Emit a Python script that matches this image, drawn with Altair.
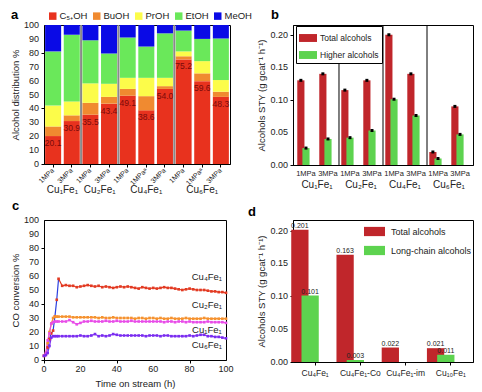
import altair as alt
import pandas as pd

FONT = "Liberation Sans"
TXT = "#222222"

# ---------------- Panel a ----------------
a_bars = ["Cu1Fe1|1MPa", "Cu1Fe1|3MPa", "Cu2Fe1|1MPa", "Cu2Fe1|3MPa",
          "Cu4Fe1|1MPa", "Cu4Fe1|1MPaᵃ", "Cu4Fe1|3MPa",
          "Cu6Fe1|1MPa", "Cu6Fe1|1MPaᵃ", "Cu6Fe1|3MPa"]
a_components = ["C₅₊OH", "BuOH", "PrOH", "EtOH", "MeOH"]
a_colors = ["#e8321e", "#f08a30", "#fcfc4a", "#6ae85a", "#0a0ae6"]
a_c5 = [20.1, 30.9, 35.5, 43.4, 49.1, 38.6, 54.0, 75.2, 59.6, 48.3]
a_buoh = [6.9, 4.1, 8.5, 4.9, 4.9, 10.2, 2.0, 2.3, 5.6, 3.7]
a_proh = [15.0, 10.0, 14.0, 9.4, 8.0, 13.2, 6.0, 3.5, 8.8, 8.4]
a_etoh = [39.0, 48.0, 31.0, 21.8, 29.0, 22.5, 32.0, 15.0, 16.0, 29.9]
a_meoh = [19.0, 7.0, 11.0, 20.5, 9.0, 15.5, 6.0, 4.0, 10.0, 9.7]
a_yticks = [0, 10, 20, 30, 40, 50, 60, 70, 80, 90, 100]
a_ylabels = ["0", "10", "20", "30", "40", "50", "60", "70", "80", "90", "100"]
a_groups = ["Cu₁Fe₁", "Cu₂Fe₁", "Cu₄Fe₁", "Cu₆Fe₁"]
a_group_anchor = ["Cu1Fe1|1MPa", "Cu2Fe1|1MPa", "Cu4Fe1|1MPaᵃ", "Cu6Fe1|1MPaᵃ"]
a_group_between = [True, True, False, False]
a_separators = ["Cu1Fe1|3MPa", "Cu2Fe1|3MPa", "Cu4Fe1|3MPa"]

# ---------------- Panel b ----------------
b_conds = ["Cu1Fe1|1MPa", "Cu1Fe1|3MPa", "Cu2Fe1|1MPa", "Cu2Fe1|3MPa",
           "Cu4Fe1|1MPa", "Cu4Fe1|3MPa", "Cu6Fe1|1MPa", "Cu6Fe1|3MPa"]
b_series = ["Total alcohols", "Higher alcohols"]
b_total = [0.130, 0.140, 0.115, 0.130, 0.200, 0.140, 0.020, 0.090]
b_higher = [0.026, 0.040, 0.042, 0.053, 0.101, 0.076, 0.010, 0.047]
b_yticks = [0, 0.05, 0.10, 0.15, 0.20]
b_ylabels = ["0.00", "0.05", "0.10", "0.15", "0.20"]
b_groups = ["Cu₁Fe₁", "Cu₂Fe₁", "Cu₄Fe₁", "Cu₆Fe₁"]
b_group_anchor = ["Cu1Fe1|1MPa", "Cu2Fe1|1MPa", "Cu4Fe1|1MPa", "Cu6Fe1|1MPa"]
b_separators = ["Cu1Fe1|3MPa", "Cu2Fe1|3MPa", "Cu4Fe1|3MPa"]
b_separator_top = [0.179, 0.215, 0.215]

# ---------------- Panel c ----------------
c_time = [0, 1, 2, 3, 4, 5, 6, 7, 8,
          10, 12, 14, 16, 18, 20, 22, 24, 26, 28, 30, 32, 34, 36, 38, 40,
          42, 44, 46, 48, 50, 52, 54, 56, 58, 60, 62, 64, 66, 68, 70,
          72, 74, 76, 78, 80, 82, 84, 86, 88, 90, 92, 94, 96, 98, 100]
c_series = ["Cu₄Fe₁", "Cu₂Fe₁", "Cu₁Fe₁", "Cu₆Fe₁"]
c_cu4 = [3, 4, 9, 15, 19, 21, 31, 43, 58,
         53, 53.5, 53, 53, 52, 52.5, 53, 53.5, 53, 52.5, 53, 52, 52.5, 52, 51.5, 52,
         52.5, 52, 52.5, 52, 51.5, 51, 52, 51.5, 51, 51.5, 51, 51.5, 52, 51.5, 51.5,
         51, 50.5, 50, 50.5, 51, 50.5, 50, 50, 50, 49.5, 49, 49, 48.5, 48.5, 48]
c_cu2 = [3, 4, 12, 20, 26, 30, 31, 31, 31,
         31, 31, 31, 30.5, 30.5, 30.5, 30.5, 30.5, 30.5, 30.5, 30, 30.5, 30, 30, 30.5, 30,
         30, 30, 30, 30, 29.5, 30, 30, 29.5, 30, 30, 29.5, 30, 29.5, 29.5, 30,
         29.5, 29.5, 29.5, 30, 29.5, 29.5, 29.5, 29.5, 30, 29.5, 29.5, 29.5, 29.5, 29.5, 29.5]
c_cu1 = [3, 5, 14, 19, 26, 27, 27.5, 27.5, 27.5,
         27.5, 27.5, 28.5, 27, 25.5, 26.5, 27.5, 27.5, 28, 27.5, 27.5, 27.5, 28, 27.5, 27.5, 28,
         27.5, 27.5, 27.5, 28, 27.5, 27.5, 27.5, 27.5, 27.5, 27.5, 27.5, 27.5, 27, 27.5, 27.5,
         27, 27.5, 27.5, 27, 27.5, 27, 27, 27, 27, 27.5, 27, 27, 27, 27, 26.5]
c_cu6 = [3, 3.5, 5, 10, 16, 17, 17, 17, 17,
         17, 17, 17, 17, 17, 17.5, 17, 17, 17.5, 18.5, 17, 17.5, 17, 17.5, 18.5, 18,
         17.5, 17.5, 17.5, 17.5, 17.5, 17.5, 17.5, 17, 17.5, 17.5, 17.5, 17, 17.5, 17.5, 17,
         17, 17, 17, 17, 17.5, 17, 17.5, 18, 18, 17, 17, 16.5, 16.5, 16, 15.5]
c_xticks = [0, 20, 40, 60, 80, 100]
c_xlabels = ["0", "20", "40", "60", "80", "100"]
c_yticks = [0, 10, 20, 30, 40, 50, 60, 70, 80, 90, 100]
c_ylabels = ["0", "10", "20", "30", "40", "50", "60", "70", "80", "90", "100"]
c_colors = ["#e23a22", "#f5922f", "#e84ce8", "#7a2cf0"]
c_ramp_color = "#2a3fe0"
c_label_x = [89.5, 89.5, 89.5, 89.5]
c_label_y = [59.5, 39.5, 21.5, 10.5]

# ---------------- Panel d ----------------
d_cats = ["Cu₄Fe₁", "Cu₄Fe₁-Co", "Cu₄Fe₁-im", "Cu₁₀Fe₁"]
d_series = ["Total alcohols", "Long-chain alcohols"]
d_total = [0.201, 0.163, 0.022, 0.021]
d_long = [0.101, 0.003, None, 0.011]
d_yticks = [0, 0.05, 0.10, 0.15, 0.20]
d_ylabels = ["0.00", "0.05", "0.10", "0.15", "0.20"]

bar_colors_bd = ["#c0262b", "#5dd34f"]
letters = ["a", "b", "c", "d"]
rect_symbol = "M-1,-0.44H1V0.44H-1Z"


def letter_layer(letter, x, y):
    return alt.Chart(pd.DataFrame({"letter": [letter]})).mark_text(
        fontSize=13, fontWeight="bold", align="left", baseline="alphabetic", color="black"
    ).encode(text="letter:N", x=alt.value(x), y=alt.value(y))


def band_geom(width, n, p_in, p_out):
    step = width / (n - p_in + 2 * p_out)
    return step, step * (1 - p_in), step * p_in / 2


def yaxis(title, values, title_pad):
    return alt.Axis(title=title, values=values, tickSize=3, labels=False,
                    titleFontSize=9.5, titlePadding=title_pad)


def ytick_labels(ticks, labels, scale):
    df = pd.DataFrame({"tick": ticks, "lab": labels})
    return alt.Chart(df).mark_text(align="right", baseline="middle", dx=-5, fontSize=9, color=TXT).encode(
        x=alt.value(0), y=alt.Y("tick:Q", scale=scale), text="lab:N")


# ================= Panel a chart =================
A_W, A_H = 186, 139
rows = []
for comp_i, (comp, vals) in enumerate(zip(a_components, [a_c5, a_buoh, a_proh, a_etoh, a_meoh])):
    for bar, v in zip(a_bars, vals):
        rows.append({"bar": bar, "comp": comp, "order": comp_i, "val": v})
df_a = pd.DataFrame(rows)
df_a_lab = pd.DataFrame({"bar": a_bars, "val": a_c5, "lab": [f"{v:.1f}" for v in a_c5]})
df_a_grp = pd.DataFrame({"bar": a_group_anchor, "name": a_groups, "between": a_group_between})
df_a_sep = pd.DataFrame({"bar": a_separators, "val": [0] * 3, "y1": [100] * 3})

a_pi, a_po = 0.14, 0.06
_, _, a_half = band_geom(A_W, len(a_bars), a_pi, a_po)
xa_scale = alt.Scale(domain=a_bars, paddingInner=a_pi, paddingOuter=a_po)
xa_axis = alt.Axis(title=None, labelExpr="split(datum.value,'|')[1]", labelAngle=-45,
                   labelAlign="right", labelBaseline="middle", labelFontSize=7,
                   tickSize=3, labelPadding=2, labelOverlap=False)
ya_scale = alt.Scale(domain=[0, 100], nice=False)

a_bars_layer = alt.Chart(df_a).mark_bar().encode(
    x=alt.X("bar:N", scale=xa_scale, axis=xa_axis, sort=a_bars),
    y=alt.Y("val:Q", stack="zero", scale=ya_scale, axis=yaxis("Alcohol distribution %", a_yticks, 20)),
    color=alt.Color("comp:N", scale=alt.Scale(domain=a_components, range=a_colors),
                    legend=alt.Legend(title=None, orient="none", direction="horizontal",
                                      legendX=4, legendY=-14, symbolType="square",
                                      symbolSize=56, symbolStrokeWidth=0, labelFontSize=9.5,
                                      labelOffset=2, columnPadding=4, labelColor=TXT)),
    order=alt.Order("order:Q", sort="ascending"),
)
a_sep_layer = alt.Chart(df_a_sep).mark_rule(color="#8a8a8a", strokeWidth=2, xOffset=a_half).encode(
    x=alt.X("bar:N", scale=xa_scale, sort=a_bars, bandPosition=1),
    y=alt.Y("val:Q", scale=ya_scale), y2="y1:Q")
a_lab_layer = alt.Chart(df_a_lab).mark_text(fontSize=8.5, baseline="top", dy=3, color="#7a0a0a").encode(
    x=alt.X("bar:N", scale=xa_scale, sort=a_bars), y=alt.Y("val:Q", scale=ya_scale), text="lab:N")
a_grp1 = alt.Chart(df_a_grp).transform_filter("datum.between").mark_text(
    fontSize=10, baseline="middle", color=TXT, dx=a_half).encode(
    x=alt.X("bar:N", scale=xa_scale, sort=a_bars, bandPosition=1),
    y=alt.value(A_H + 26), text="name:N")
a_grp2 = alt.Chart(df_a_grp).transform_filter("!datum.between").mark_text(
    fontSize=10, baseline="middle", color=TXT).encode(
    x=alt.X("bar:N", scale=xa_scale, sort=a_bars, bandPosition=0.5),
    y=alt.value(A_H + 26), text="name:N")
pa = alt.layer(a_bars_layer, a_sep_layer, a_lab_layer, a_grp1, a_grp2,
               ytick_labels(a_yticks, a_ylabels, ya_scale),
               letter_layer(letters[0], -33, -6)).properties(width=A_W, height=A_H)

# ================= Panel b chart =================
B_W, B_H = 180, 140
rows = []
for s, vals in zip(b_series, [b_total, b_higher]):
    for c, v in zip(b_conds, vals):
        rows.append({"cond": c, "sb": s, "val": v})
df_b = pd.DataFrame(rows)
df_b_grp = pd.DataFrame({"cond": b_group_anchor, "name": b_groups})
df_b_sep = pd.DataFrame({"cond": b_separators, "val": [0] * 3, "y1": b_separator_top})

b_pi, b_po = 0.32, 0.25
b_step, b_bw, b_half = band_geom(B_W, len(b_conds), b_pi, b_po)
b_off_pi = 0.08
b_bar_w = b_bw / (2 - b_off_pi) * (1 - b_off_pi)
xb_scale = alt.Scale(domain=b_conds, paddingInner=b_pi, paddingOuter=b_po)
yb_scale = alt.Scale(domain=[0, 0.215], nice=False)
xb_axis = alt.Axis(title=None, labelExpr="split(datum.value,'|')[1]", labelAngle=0,
                   labelFontSize=7.5, tickSize=0, labelPadding=4, labelOverlap=False)
xoff_b = alt.XOffset("sb:N", scale=alt.Scale(domain=b_series, paddingInner=b_off_pi, paddingOuter=0))

b_bars_layer = alt.Chart(df_b).mark_bar(width=b_bar_w).encode(
    x=alt.X("cond:N", scale=xb_scale, axis=xb_axis, sort=b_conds),
    xOffset=xoff_b,
    y=alt.Y("val:Q", scale=yb_scale, axis=yaxis("Alcohols STY (g gcat⁻¹ h⁻¹)", b_yticks, 23)),
    color=alt.Color("sb:N", scale=alt.Scale(domain=b_series, range=bar_colors_bd),
                    legend=alt.Legend(title=None, orient="none", legendX=3, legendY=1,
                                      strokeColor="black", padding=3, fillColor="white",
                                      symbolType=rect_symbol, symbolSize=324, symbolStrokeWidth=0,
                                      labelFontSize=8.5, rowPadding=3, labelOffset=3, labelColor=TXT)),
)
b_err_layer = alt.Chart(df_b).mark_point(shape="square", filled=True, size=9, color="black", opacity=1).encode(
    x=alt.X("cond:N", scale=xb_scale, sort=b_conds), xOffset=xoff_b,
    y=alt.Y("val:Q", scale=yb_scale))
b_sep_layer = alt.Chart(df_b_sep).mark_rule(color="black", strokeWidth=1, xOffset=b_half).encode(
    x=alt.X("cond:N", scale=xb_scale, sort=b_conds, bandPosition=1),
    y=alt.Y("val:Q", scale=yb_scale), y2="y1:Q")
b_grp_layer = alt.Chart(df_b_grp).mark_text(fontSize=10, baseline="middle", color=TXT, dx=b_half).encode(
    x=alt.X("cond:N", scale=xb_scale, sort=b_conds, bandPosition=1),
    y=alt.value(B_H + 20), text="name:N")
pb = alt.layer(b_bars_layer, b_sep_layer, b_err_layer, b_grp_layer,
               ytick_labels(b_yticks, b_ylabels, yb_scale),
               letter_layer(letters[1], -22, -6)).properties(width=B_W, height=B_H)

# ================= Panel c chart =================
C_W, C_H = 182, 140
pts = []
lines = []
for s, vals in zip(c_series, [c_cu4, c_cu2, c_cu1, c_cu6]):
    for t, v in zip(c_time, vals):
        pts.append({"series": s, "t": t, "v": v})
        if s == c_series[0]:
            if t <= 8:
                lines.append({"grp": "ramp", "t": t, "v": v})
            if t >= 8:
                lines.append({"grp": s, "t": t, "v": v})
        else:
            lines.append({"grp": s, "t": t, "v": v})
df_c_pts = pd.DataFrame(pts)
df_c_lines = pd.DataFrame(lines)
df_c_lab = pd.DataFrame({"name": c_series, "t": c_label_x, "v": c_label_y})
df_c_xt = pd.DataFrame({"t": c_xticks, "lab": c_xlabels})

xc_scale = alt.Scale(domain=[0, 100], nice=False)
yc_scale = alt.Scale(domain=[0, 100], nice=False)
c_line_layer = alt.Chart(df_c_lines).mark_line(strokeWidth=1.2).encode(
    x=alt.X("t:Q", scale=xc_scale,
            axis=alt.Axis(title="Time on stream (h)", values=c_xticks, tickSize=3, labels=False,
                          titleFontSize=9.5, titlePadding=15)),
    y=alt.Y("v:Q", scale=yc_scale, axis=yaxis("CO conversion %", c_yticks, 20)),
    color=alt.Color("grp:N", scale=alt.Scale(domain=c_series + ["ramp"], range=c_colors + [c_ramp_color]),
                    legend=None),
    detail="grp:N",
)
c_pt_layer = alt.Chart(df_c_pts).mark_point(shape="square", filled=True, size=7, opacity=1).encode(
    x=alt.X("t:Q", scale=xc_scale), y=alt.Y("v:Q", scale=yc_scale),
    color=alt.Color("series:N", scale=alt.Scale(domain=c_series, range=c_colors), legend=None))
c_lab_layer = alt.Chart(df_c_lab).mark_text(fontSize=9.5, color=TXT, baseline="middle").encode(
    x=alt.X("t:Q", scale=xc_scale), y=alt.Y("v:Q", scale=yc_scale), text="name:N")
c_xt_layer = alt.Chart(df_c_xt).mark_text(fontSize=9, color=TXT, baseline="top", dy=0).encode(
    x=alt.X("t:Q", scale=xc_scale), y=alt.value(C_H + 5), text="lab:N")
pc = alt.layer(c_line_layer, c_pt_layer, c_lab_layer, c_xt_layer,
               ytick_labels(c_yticks, c_ylabels, yc_scale),
               letter_layer(letters[2], -32, -10)).resolve_scale(color="independent").properties(width=C_W, height=C_H)

# ================= Panel d chart =================
D_W, D_H = 180, 142
rows = []
for s, vals in zip(d_series, [d_total, d_long]):
    for c, v in zip(d_cats, vals):
        if v is not None:
            rows.append({"cat": c, "sd": s, "val": v, "lab": f"{v:.3f}"})
df_d = pd.DataFrame(rows)
d_pi, d_po = 0.22, 0.1
d_step, d_bw, _ = band_geom(D_W, len(d_cats), d_pi, d_po)
d_off_pi = 0.04
d_bar_w = d_bw / (2 - d_off_pi) * (1 - d_off_pi)
xd_scale = alt.Scale(domain=d_cats, paddingInner=d_pi, paddingOuter=d_po)
yd_scale = alt.Scale(domain=[0, 0.216], nice=False)
xoff_d = alt.XOffset("sd:N", scale=alt.Scale(domain=d_series, paddingInner=d_off_pi, paddingOuter=0))
d_bars_layer = alt.Chart(df_d).mark_bar(width=d_bar_w).encode(
    x=alt.X("cat:N", scale=xd_scale, sort=d_cats,
            axis=alt.Axis(title=None, labelAngle=0, labelFontSize=8.5, tickSize=3, labelPadding=3,
                          labelOverlap=False)),
    xOffset=xoff_d,
    y=alt.Y("val:Q", scale=yd_scale, axis=yaxis("Alcohols STY (g gcat⁻¹ h⁻¹)", d_yticks, 23)),
    color=alt.Color("sd:N", scale=alt.Scale(domain=d_series, range=bar_colors_bd),
                    legend=alt.Legend(title=None, orient="none", legendX=71, legendY=1,
                                      symbolType=rect_symbol, symbolSize=441, symbolStrokeWidth=0,
                                      labelFontSize=9, rowPadding=3, labelOffset=6, labelColor=TXT)),
)
d_lab_layer = alt.Chart(df_d).mark_text(fontSize=7, baseline="bottom", dy=-1, color=TXT).encode(
    x=alt.X("cat:N", scale=xd_scale, sort=d_cats), xOffset=xoff_d,
    y=alt.Y("val:Q", scale=yd_scale), text="lab:N")
pd_ = alt.layer(d_bars_layer, d_lab_layer,
                ytick_labels(d_yticks, d_ylabels, yd_scale),
                letter_layer(letters[3], -45, -4)).properties(width=D_W, height=D_H)

chart = alt.concat(
    pa, pb, pc, pd_, columns=2, spacing={"row": 55, "column": 63},
    bounds="flush", align="each"
).resolve_scale(
    color="independent", x="independent", y="independent"
).properties(
    padding={"left": 2, "top": 0, "right": 0, "bottom": 0}
).configure(font=FONT).configure_view(
    stroke="black", strokeWidth=1
).configure_axis(
    domainColor="black", tickColor="black", labelColor=TXT, titleColor=TXT,
    titleFontWeight="normal", grid=False, labelFont=FONT, titleFont=FONT
).configure_legend(labelFont=FONT).configure_text(font=FONT)

chart.save("out.html", embed_options={"renderer": "svg", "actions": False})
